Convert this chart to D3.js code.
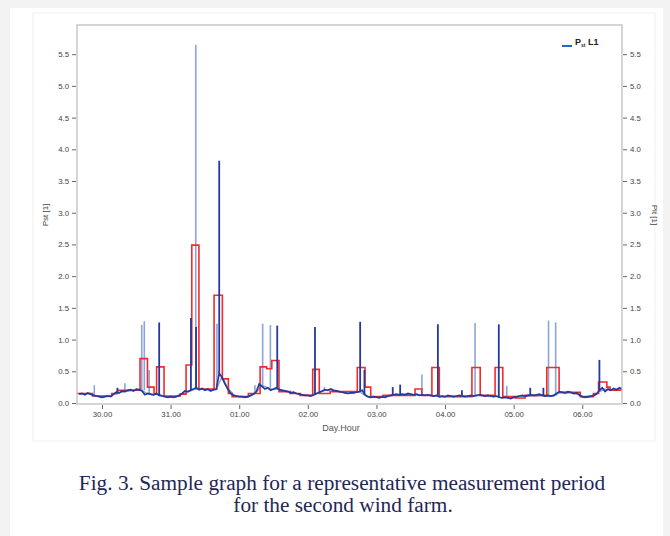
<!DOCTYPE html>
<html><head><meta charset="utf-8">
<script src="https://cdn.jsdelivr.net/npm/d3@7"></script>
<style>
html,body{margin:0;padding:0;background:#f3f3f3;}
svg{display:block;}
</style></head><body>
<svg id="c" width="670" height="536"></svg>
<script>
// ---------------- DATA ----------------
// time in hours relative to day 30, 00:00
const xTickHours = [0, 24, 48, 72, 96, 120, 144, 168];
const xTickLabels = ["30.00", "31.00", "01.00", "02.00", "03.00", "04.00", "05.00", "06.00"];
const yTicks = [0, 0.5, 1.0, 1.5, 2.0, 2.5, 3.0, 3.5, 4.0, 4.5, 5.0, 5.5];

// Pst L1 (dark blue), hourly samples starting at hour -8
const darkStartHour = -8;
const darkStepHours = 1;
const darkValues = [
  0.14,0.15,0.13,0.16,0.14,0.12,
  0.11,0.10,0.09,0.10,0.11,0.10,
  0.14,0.17,0.16,0.19,0.18,0.20,0.21,0.19,0.22,
  0.21,0.19,0.13,0.15,
  0.14,0.13,0.15,0.12,0.11,0.10,0.09,0.10,0.09,0.10,
  0.12,0.15,0.19,0.18,0.20,
  0.22,0.24,0.21,0.23,0.20,0.22,0.19,0.21,
  0.22,0.47,0.40,0.30,
  0.22,0.15,0.12,0.11,0.10,0.10,0.09,0.10,
  0.12,0.14,0.18,
  0.30,0.26,0.22,0.24,0.20,0.22,0.24,0.21,
  0.20,0.19,0.18,0.16,0.17,0.15,0.14,0.13,0.12,0.12,0.11,
  0.13,0.15,0.17,
  0.19,0.21,0.20,0.22,0.20,0.19,0.18,0.17,0.16,0.15,0.16,
  0.16,0.17,0.18,0.20,0.13,0.10,0.09,0.10,
  0.09,0.08,0.10,0.09,0.11,0.12,0.13,0.14,
  0.13,0.14,0.13,0.15,0.14,0.13,0.14,0.12,0.13,0.12,0.13,0.12,0.11,0.12,
  0.10,0.11,0.10,0.12,0.11,0.10,0.11,0.12,0.11,0.10,0.11,0.12,0.11,0.12,0.13,0.12,0.11,
  0.12,0.11,0.10,0.11,0.09,0.08,0.09,0.08,0.07,0.09,0.10,0.11,0.12,0.11,0.12,
  0.13,0.12,0.13,0.14,0.12,0.11,0.12,0.11,0.12,0.15,
  0.18,0.17,0.16,0.18,0.17,0.15,0.16,0.13,
  0.10,0.09,0.10,0.11,0.12,0.14,
  0.20,0.24,0.18,0.22,0.20,0.23,0.21,0.24,0.22
];
// dark spikes: [hour, peak]
const darkSpikes = [
  [5.4,0.24],[20.0,1.27],[31.1,1.34],[32.9,1.20],[41.0,3.82],[61.3,1.22],
  [74.5,1.20],[90.3,1.28],[91.8,0.52],[101.7,0.25],[104.3,0.29],[117.5,1.24],
  [125.9,0.20],[138.8,1.24],[149.8,0.24],[154.4,0.24],[174.0,0.68]
];

// second Pst trace (light blue), 2-hourly samples starting at hour -8
const lightStartHour = -8;
const lightStepHours = 2;
const lightValues = [
  0.15,0.14,0.15,0.11,0.10,0.10,0.13,0.16,0.18,0.19,0.21,0.20,0.14,0.13,0.14,0.10,
  0.09,0.10,0.14,0.17,0.21,0.22,0.21,0.20,0.21,0.42,0.24,0.13,0.10,0.10,0.11,0.17,
  0.28,0.24,0.21,0.22,0.19,0.17,0.15,0.13,0.12,0.12,0.16,0.20,0.21,0.19,0.17,0.15,
  0.16,0.18,0.12,0.09,0.09,0.09,0.10,0.12,0.13,0.14,0.13,0.13,0.12,0.12,0.11,0.10,
  0.10,0.11,0.10,0.11,0.11,0.11,0.12,0.11,0.10,0.10,0.08,0.08,0.08,0.10,0.10,0.11,
  0.11,0.12,0.10,0.11,0.16,0.15,0.16,0.14,0.10,0.09,0.11,0.18,0.22,0.20,0.22,0.21
];
const lightSpikes = [
  [-2.7,0.28],[8.0,0.31],[13.9,1.23],[14.8,1.29],[16.5,0.52],[32.8,5.65],
  [40.2,1.25],[53.5,0.28],[56.2,1.25],[58.9,1.23],[77.8,0.25],[111.9,0.45],
  [130.5,1.26],[141.6,0.27],[156.2,1.30],[158.7,1.27]
];

// Plt (red) step values: [start hour, value]
const pltSteps = [
  [-8.75,0.15],[-3.3,0.11],[3.4,0.15],[5.4,0.20],[13.3,0.70],[15.9,0.25],[18.2,0.14],
  [19.1,0.57],[21.7,0.11],[27.3,0.14],[29.4,0.60],[31.4,2.49],[33.9,0.22],[39.2,1.70],
  [42.1,0.38],[44.2,0.15],[45.5,0.10],[51.2,0.15],[55.3,0.57],[57.6,0.54],[59.4,0.67],
  [61.9,0.18],[65.8,0.15],[69.3,0.12],[73.7,0.53],[76.0,0.15],[79.8,0.18],[89.3,0.56],
  [92.0,0.25],[94.0,0.10],[98.3,0.12],[109.5,0.22],[111.9,0.12],[115.4,0.56],[118.0,0.10],
  [129.4,0.56],[132.3,0.12],[137.5,0.56],[140.2,0.10],[144.5,0.08],[148.0,0.12],
  [155.6,0.56],[159.9,0.17],[167.3,0.10],[171.9,0.15],[173.7,0.33],[176.6,0.25],
  [177.7,0.20],[181.9,0.20]
];

// ---------------- DRAW ----------------
const svg = d3.select("#c");
svg.append("rect").attr("x",10).attr("y",8).attr("width",653).attr("height",528).attr("fill","#fff");
svg.append("rect").attr("x",33).attr("y",13).attr("width",622).attr("height",428)
  .attr("fill","#fff").attr("stroke","#efefef").attr("stroke-width",1);

const x = d3.scaleLinear().domain([-8.75, 181.9]).range([77, 622]);
const y = d3.scaleLinear().domain([0, 5.96]).range([403, 25]);

svg.append("clipPath").attr("id","pc").append("rect")
  .attr("x",77).attr("y",25).attr("width",545).attr("height",379);

const plot = svg.append("g").attr("clip-path","url(#pc)");

const darkPts = darkValues.map((v,i)=>[darkStartHour + i*darkStepHours, v]);
const lightPts = lightValues.map((v,i)=>[lightStartHour + i*lightStepHours, v]);
function baseAt(pts, h){
  let best = pts[0];
  for (const p of pts) if (Math.abs(p[0]-h) < Math.abs(best[0]-h)) best = p;
  return best[1];
}
const line = d3.line().x(d=>x(d[0])).y(d=>y(d[1]));

// light trace
plot.append("path").datum(lightPts).attr("d", line)
  .attr("fill","none").attr("stroke","#8aa4dc").attr("stroke-width",1.3);
plot.selectAll(".ls").data(lightSpikes).join("line").attr("class","ls")
  .attr("x1",d=>x(d[0])).attr("x2",d=>x(d[0]))
  .attr("y1",d=>y(baseAt(lightPts,d[0]))).attr("y2",d=>y(d[1]))
  .attr("stroke","#8aa4dc").attr("stroke-width",1.6);

// red Plt
plot.append("path").datum(pltSteps)
  .attr("d", d3.line().x(d=>x(d[0])).y(d=>y(d[1])).curve(d3.curveStepAfter))
  .attr("fill","none").attr("stroke","#f22a2a").attr("stroke-width",1.6);

// dark trace
plot.append("path").datum(darkPts).attr("d", line)
  .attr("fill","none").attr("stroke","#233a9c").attr("stroke-width",1.7);
plot.selectAll(".ds").data(darkSpikes).join("line").attr("class","ds")
  .attr("x1",d=>x(d[0])).attr("x2",d=>x(d[0]))
  .attr("y1",d=>y(baseAt(darkPts,d[0]))).attr("y2",d=>y(d[1]))
  .attr("stroke","#233a9c").attr("stroke-width",1.8);

// frame
svg.append("rect").attr("x",77).attr("y",25).attr("width",545).attr("height",379)
  .attr("fill","none").attr("stroke","#c4c4c4").attr("stroke-width",1.4);

const fmt = d3.format(".1f");
function styleAxis(g){
  g.select(".domain").remove();
  g.selectAll(".tick line").attr("stroke","#666");
  g.selectAll(".tick text").attr("fill","#444").style("font-size","7.8px")
    .style("font-family","Liberation Sans, Arial, sans-serif");
}
svg.append("g").attr("transform","translate(76,0)")
  .call(d3.axisLeft(y).tickValues(yTicks).tickFormat(fmt).tickSize(4).tickPadding(3))
  .call(styleAxis);
svg.append("g").attr("transform","translate(623,0)")
  .call(d3.axisRight(y).tickValues(yTicks).tickFormat(fmt).tickSize(4).tickPadding(3))
  .call(styleAxis);
svg.append("g").attr("transform","translate(0,405)")
  .call(d3.axisBottom(x).tickValues(xTickHours).tickFormat((d,i)=>xTickLabels[i]).tickSize(4).tickPadding(2))
  .call(styleAxis);

const sans = "Liberation Sans, Arial, sans-serif";
svg.append("text").attr("transform","translate(48,215) rotate(-90)")
  .attr("text-anchor","middle").attr("fill","#444").style("font-size","8px").style("font-family",sans)
  .text("Pst [1]");
svg.append("text").attr("transform","translate(652,215) rotate(90)")
  .attr("text-anchor","middle").attr("fill","#444").style("font-size","8px").style("font-family",sans)
  .text("Plt [1]");
svg.append("text").attr("x",341).attr("y",431).attr("text-anchor","middle")
  .attr("fill","#555").style("font-size","9px").style("font-family",sans).text("Day.Hour");

// legend
svg.append("line").attr("x1",562).attr("x2",572).attr("y1",46).attr("y2",46)
  .attr("stroke","#2a66c8").attr("stroke-width",2);
const lt = svg.append("text").attr("x",575).attr("y",45).attr("fill","#222")
  .style("font-size","9px").style("font-family",sans).style("font-weight","bold");
lt.append("tspan").text("P");
lt.append("tspan").attr("dy",2).style("font-size","5px").text("st");
lt.append("tspan").attr("dy",-2).text(" L1");

// caption
const serif = "Liberation Serif, Times New Roman, serif";
svg.append("text").attr("x",342).attr("y",490).attr("text-anchor","middle")
  .attr("fill","#1f2857").style("font-size","21.3px").style("font-family",serif)
  .text("Fig. 3. Sample graph for a representative measurement period");
svg.append("text").attr("x",343).attr("y",512).attr("text-anchor","middle")
  .attr("fill","#1f2857").style("font-size","21.3px").style("font-family",serif)
  .text("for the second wind farm.");
</script></body></html>
